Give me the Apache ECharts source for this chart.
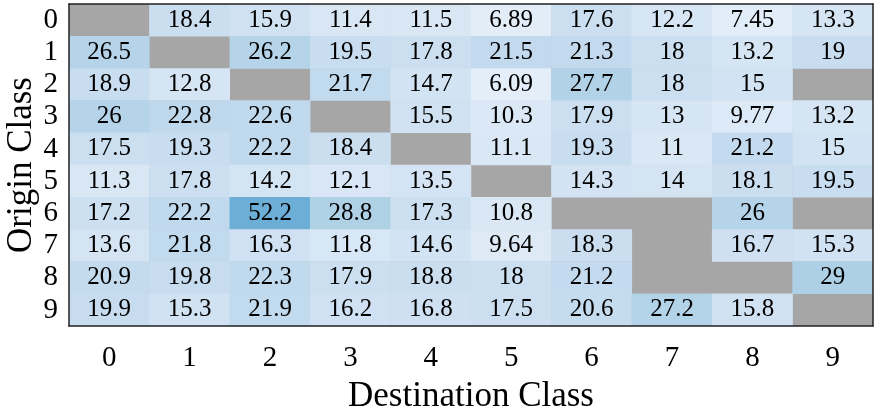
<!DOCTYPE html>
<html>
<head>
<meta charset="utf-8">
<script src="https://cdn.jsdelivr.net/npm/echarts@6/dist/echarts.min.js"></script>
<style>html,body{margin:0;padding:0;background:#fff}#c{width:876px;height:412px}</style>
</head>
<body>
<div id="c"></div>
<script>
var destClasses = ['0','1','2','3','4','5','6','7','8','9'];
var originClasses = ['0','1','2','3','4','5','6','7','8','9'];
var row0 = [null, 18.4, 15.9, 11.4, 11.5, 6.89, 17.6, 12.2, 7.45, 13.3];
var row1 = [26.5, null, 26.2, 19.5, 17.8, 21.5, 21.3, 18, 13.2, 19];
var row2 = [18.9, 12.8, null, 21.7, 14.7, 6.09, 27.7, 18, 15, null];
var row3 = [26, 22.8, 22.6, null, 15.5, 10.3, 17.9, 13, 9.77, 13.2];
var row4 = [17.5, 19.3, 22.2, 18.4, null, 11.1, 19.3, 11, 21.2, 15];
var row5 = [11.3, 17.8, 14.2, 12.1, 13.5, null, 14.3, 14, 18.1, 19.5];
var row6 = [17.2, 22.2, 52.2, 28.8, 17.3, 10.8, null, null, 26, null];
var row7 = [13.6, 21.8, 16.3, 11.8, 14.6, 9.64, 18.3, null, 16.7, 15.3];
var row8 = [20.9, 19.8, 22.3, 17.9, 18.8, 18, 21.2, null, null, 29];
var row9 = [19.9, 15.3, 21.9, 16.2, 16.8, 17.5, 20.6, 27.2, 15.8, null];
var rows = [row0,row1,row2,row3,row4,row5,row6,row7,row8,row9];

var data = [];
rows.forEach(function(r, y){
  r.forEach(function(v, x){ if (v !== null) data.push([x, y, v]); });
});

var FONT = "'Liberation Serif','Times New Roman',serif";
var chart = echarts.init(document.getElementById('c'));
var axisLineStyle = {show:true, lineStyle:{color:'#222', width:1.5}};
chart.setOption({
  animation:false,
  backgroundColor:'#fff',
  grid:{left:69, right:3, top:4, bottom:86, containLabel:false, outerBoundsMode:'none',
        show:true, backgroundColor:'#a6a6a6', borderWidth:0},
  xAxis:[{
    type:'category', data:destClasses, position:'bottom', z:10,
    axisLine:axisLineStyle, axisTick:{show:false}, splitLine:{show:false},
    axisLabel:{interval:0, fontFamily:FONT, fontSize:29, color:'#000', margin:18},
    name:'Destination Class', nameLocation:'middle', nameGap:53, nameMoveOverlap:false,
    nameTextStyle:{fontFamily:FONT, fontSize:35, color:'#000'}
  },{
    type:'category', data:destClasses, position:'top', z:10,
    axisLine:axisLineStyle, axisTick:{show:false}, axisLabel:{show:false}
  }],
  yAxis:[{
    type:'category', data:originClasses, inverse:true, position:'left', z:10,
    axisLine:axisLineStyle, axisTick:{show:false}, splitLine:{show:false},
    axisLabel:{interval:0, fontFamily:FONT, fontSize:29, color:'#000', margin:11},
    name:'Origin Class', nameLocation:'middle', nameGap:30, nameMoveOverlap:false,
    nameTextStyle:{fontFamily:FONT, fontSize:35, color:'#000'}
  },{
    type:'category', data:originClasses, inverse:true, position:'right', z:10,
    axisLine:axisLineStyle, axisTick:{show:false}, axisLabel:{show:false}
  }],
  visualMap:{
    show:false, min:0, max:60, dimension:2, seriesIndex:0,
    inRange:{color:['#f1f7fd','#dce9f6','#c7dcef','#abcfe5','#90c2de','#72b2d7','#57a1ce']}
  },
  series:[{
    type:'heatmap', data:data,
    label:{show:true, fontFamily:FONT, fontSize:25, color:'#000',
      formatter:function(p){ return String(p.value[2]); }},
    itemStyle:{borderWidth:0}
  }]
});
</script>
</body>
</html>
